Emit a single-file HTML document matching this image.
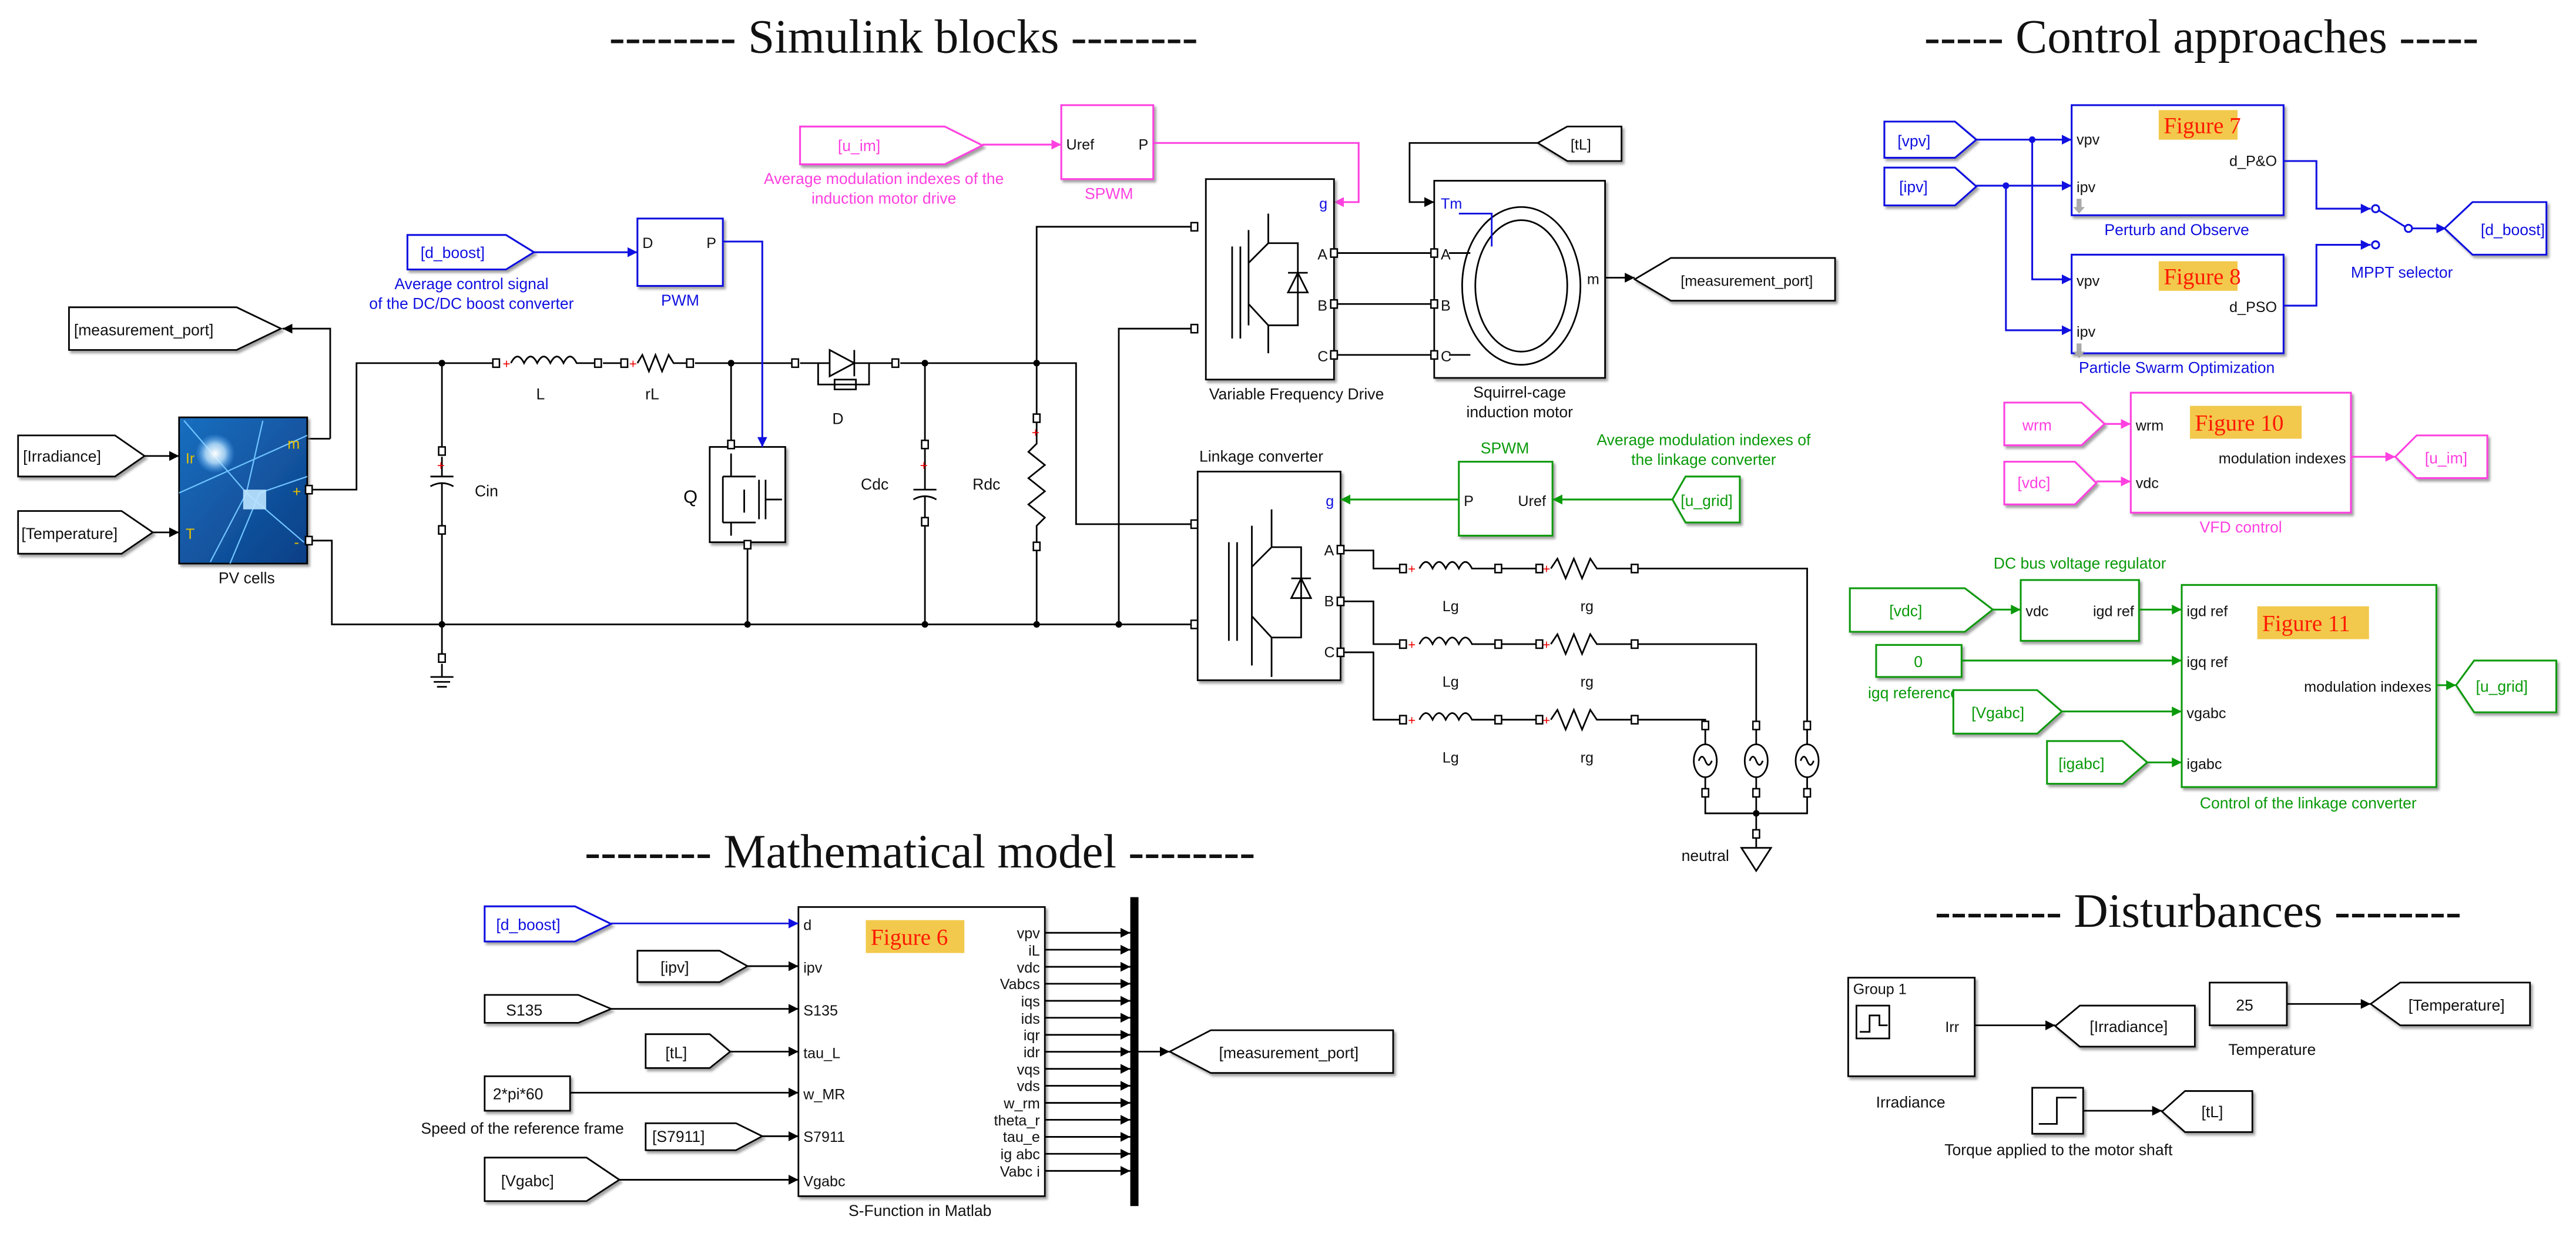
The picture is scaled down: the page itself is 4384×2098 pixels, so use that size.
<!DOCTYPE html>
<html><head><meta charset="utf-8"><style>
html,body{margin:0;padding:0;background:#fff;}
svg{display:block;}
text{font-family:"Liberation Sans",Arial,sans-serif;}
.t{font-family:"Liberation Serif",serif;font-size:29px;fill:#111;}
.f{font-family:"Liberation Serif",serif;font-size:14px;fill:#ff1a00;}
</style></head><body>
<svg width="4384" height="2098" viewBox="0 0 1568 750.4" preserveAspectRatio="none" xmlns="http://www.w3.org/2000/svg">
<defs>
<marker id="ak" viewBox="0 0 10 10" refX="10" refY="5" markerWidth="6" markerHeight="6" orient="auto" markerUnits="userSpaceOnUse"><path d="M0,0L10,5L0,10z" fill="#000"/></marker>
<marker id="ab" viewBox="0 0 10 10" refX="10" refY="5" markerWidth="6" markerHeight="6" orient="auto" markerUnits="userSpaceOnUse"><path d="M0,0L10,5L0,10z" fill="#1010e0"/></marker>
<marker id="ap" viewBox="0 0 10 10" refX="10" refY="5" markerWidth="6" markerHeight="6" orient="auto" markerUnits="userSpaceOnUse"><path d="M0,0L10,5L0,10z" fill="#ff40e0"/></marker>
<marker id="ag" viewBox="0 0 10 10" refX="10" refY="5" markerWidth="6" markerHeight="6" orient="auto" markerUnits="userSpaceOnUse"><path d="M0,0L10,5L0,10z" fill="#0a9a0a"/></marker>
<filter id="sh" x="-10%" y="-10%" width="130%" height="140%"><feDropShadow dx="1.2" dy="1.5" stdDeviation="0.8" flood-color="#777" flood-opacity="0.7"/></filter>
<linearGradient id="pv" x1="0" y1="0" x2="1" y2="1"><stop offset="0" stop-color="#1a6fc0"/><stop offset="1" stop-color="#0c3f86"/></linearGradient>
<radialGradient id="gl"><stop offset="0" stop-color="#fff"/><stop offset="0.5" stop-color="#bfe6ff" stop-opacity="0.8"/><stop offset="1" stop-color="#5ab0ff" stop-opacity="0"/></radialGradient>
</defs>

<text class="t" x="550" y="32" text-anchor="middle">--------  Simulink blocks  --------</text>
<text class="t" x="1340" y="32" text-anchor="middle">-----  Control approaches  -----</text>
<text class="t" x="560" y="528" text-anchor="middle">--------  Mathematical model  --------</text>
<text class="t" x="1338" y="564" text-anchor="middle">--------  Disturbances  --------</text>

<g fill="none" stroke="#000" stroke-width="1" font-size="9.5">
<path d="M42,187H144L171,200L144,213H42Z" fill="#fff" filter="url(#sh)"/>
<path d="M201,267H187M201,267V200H172" marker-end="url(#ak)"/>
<path d="M11,265H70L88,277.5L70,290H11Z" fill="#fff" filter="url(#sh)"/>
<path d="M11,311H74L93,324L74,337H11Z" fill="#fff" filter="url(#sh)"/>
<path d="M88,277.5H109" marker-end="url(#ak)"/>
<path d="M93,324H109" marker-end="url(#ak)"/>
<rect x="109" y="254" width="78" height="89" fill="url(#pv)" stroke="#000" filter="url(#sh)"/>
<g stroke="#6fc3ff" stroke-width="0.8"><path d="M112,256L150,300L185,330"/><path d="M160,256L150,300L128,342"/><path d="M109,300L187,265"/><path d="M140,343L158,300L187,290"/></g>
<circle cx="131" cy="276" r="12" fill="url(#gl)" stroke="none"/>
<rect x="148" y="298" width="14" height="12" fill="#bde4ff" stroke="none" opacity="0.9"/>
<path d="M187,298H217V221H302"/>
<path d="M187,329H202V380H727"/>
<path d="M269,221V275M269,278V290M262,290H276M262,296Q269,292 276,296M269,294V322M269,325V380M269,380V400M269,404V412M262,412H276M264,415H274M266,418H272"/>
<path d="M311,221q4,-8 8,0q4,-8 8,0q4,-8 8,0q4,-8 8,0q4,-8 8,0H364"/>
<path d="M367,221H380"/>
<path d="M388,221l3,-5 4,10 4,-10 4,10 4,-10 3,5H420"/>
<path d="M423,221H484"/>
<path d="M487,221H505M505,213V229L520,221Z M520,213V229M520,221H545M498,221V234H529V221M508,231H521V237H508Z"/>
<path d="M548,221H655V319H727"/>
<path d="M445,221V268M455,332V380"/>
<rect x="432" y="272" width="46" height="58" fill="#fff" filter="url(#sh)"/>
<path d="M445,276V290M440,290H460M440,318H460M440,290V318M453,298V312M445,318V326M462,292V316M466,292V316M466,304H476"/>
<text x="416" y="306" font-size="11" fill="#000" stroke="none">Q</text>
<path d="M563,221V270M563,273V298M556,298H570M556,304Q563,300 570,304M563,302V317M563,320V380"/>
<path d="M631,221V254M631,257V270l-5,5 10,8 -10,8 10,8 -10,8 10,8 -5,5V332M631,335V380"/>
<path d="M631,221V138H727M681,380V200H727"/>
</g>
<g fill="#fff" stroke="#000" stroke-width="0.9">
<rect x="186" y="295.5" width="4" height="5"/><rect x="186" y="326.5" width="4" height="5"/>
<rect x="300" y="218.5" width="4" height="5"/><rect x="362" y="218.5" width="4" height="5"/>
<rect x="378" y="218.5" width="4" height="5"/><rect x="418" y="218.5" width="4" height="5"/>
<rect x="482" y="218.5" width="4" height="5"/><rect x="543" y="218.5" width="4" height="5"/>
<rect x="267" y="272" width="4" height="5"/><rect x="267" y="320" width="4" height="5"/><rect x="267" y="398" width="4" height="5"/>
<rect x="443" y="268" width="4" height="5"/><rect x="453" y="329" width="4" height="5"/>
<rect x="561" y="268" width="4" height="5"/><rect x="561" y="315" width="4" height="5"/>
<rect x="629" y="252" width="4" height="5"/><rect x="629" y="330" width="4" height="5"/>
<rect x="725" y="135.5" width="4" height="5"/><rect x="725" y="197.5" width="4" height="5"/>
<rect x="725" y="316.5" width="4" height="5"/><rect x="725" y="377.5" width="4" height="5"/>
</g>
<g fill="#000"><circle cx="269" cy="221" r="2"/><circle cx="445" cy="221" r="2"/><circle cx="563" cy="221" r="2"/><circle cx="631" cy="221" r="2"/><circle cx="269" cy="380" r="2"/><circle cx="455" cy="380" r="2"/><circle cx="563" cy="380" r="2"/><circle cx="631" cy="380" r="2"/><circle cx="681" cy="380" r="2"/></g>
<g fill="#e00" font-size="8"><text x="306" y="224">+</text><text x="383" y="224">+</text><text x="266" y="286">+</text><text x="560" y="286">+</text><text x="628" y="266">+</text></g>
<g font-size="9.5" fill="#111">
<text x="133" y="355">PV cells</text>
<text x="329" y="243" text-anchor="middle">L</text><text x="397" y="243" text-anchor="middle">rL</text>
<text x="510" y="258" text-anchor="middle">D</text>
<text x="289" y="302">Cin</text><text x="524" y="298">Cdc</text><text x="592" y="298">Rdc</text>
<text x="45" y="204">[measurement_port]</text>
<text x="14" y="281">[Irradiance]</text>
<text x="13" y="328">[Temperature]</text>
</g>
<g fill="#e8c000" font-size="9"><text x="175" y="273">m</text><text x="113" y="282">Ir</text><text x="113" y="328">T</text><text x="178" y="302">+</text><text x="179" y="333">-</text></g>

<g stroke="#1010e0" fill="none" stroke-width="1.1">
<path d="M248,143H308L325,153.5L308,164H248Z" fill="#fff" filter="url(#sh)"/>
<rect x="388" y="133" width="52" height="41" fill="#fff" filter="url(#sh)"/>
<path d="M325,153.5H388" marker-end="url(#ab)"/>
<path d="M440,147H464V272" marker-end="url(#ab)"/>
</g>
<g fill="#1010e0" font-size="9.5">
<text x="256" y="157">[d_boost]</text>
<text x="287" y="176" text-anchor="middle">Average control signal</text>
<text x="287" y="188" text-anchor="middle">of the DC/DC boost converter</text>
<text x="414" y="186" text-anchor="middle">PWM</text>
</g>
<g font-size="9" fill="#111"><text x="391" y="151">D</text><text x="430" y="151">P</text></g>

<g stroke="#ff40e0" fill="none" stroke-width="1.1">
<path d="M487,77H575L598,88.5L575,100H487Z" fill="#fff" filter="url(#sh)"/>
<rect x="646" y="64" width="56" height="45" fill="#fff" filter="url(#sh)"/>
<path d="M598,88H646" marker-end="url(#ap)"/>
<path d="M702,87H827V123H812" marker-end="url(#ap)"/>
</g>
<g fill="#ff40e0" font-size="9.5">
<text x="510" y="92">[u_im]</text>
<text x="538" y="112" text-anchor="middle">Average modulation indexes of the</text>
<text x="538" y="124" text-anchor="middle">induction motor drive</text>
<text x="675" y="121" text-anchor="middle">SPWM</text>
</g>
<g font-size="9" fill="#111"><text x="649" y="91">Uref</text><text x="693" y="91">P</text></g>

<g fill="none" stroke="#000" stroke-width="1">
<rect x="734" y="109" width="78" height="122" fill="#fff" filter="url(#sh)"/>
<path d="M750,150V206M755,150V206M760,140V198M760,160L772,148V130M760,185L772,198V215M772,148H790V198H772M790,166L784,178H796Z M784,166H796"/>
<path d="M812,154H873M812,185H873M812,216H873"/>
<rect x="873" y="110" width="104" height="120" fill="#fff" filter="url(#sh)"/>
<ellipse cx="926" cy="174" rx="36" ry="48"/><ellipse cx="926" cy="174" rx="28" ry="40"/>
<path d="M882,154H895M882,216H895"/>
<path d="M987,87H858V123H873" marker-end="url(#ak)"/>
<path d="M936,87L954,77H987V98H954Z" fill="#fff" filter="url(#sh)"/>
<path d="M977,169H995" marker-end="url(#ak)"/>
<path d="M995,170L1017,157H1117V183H1017Z" fill="#fff" filter="url(#sh)"/>
</g>
<path d="M888,130H908V150" stroke="#1010e0" fill="none"/>
<g fill="#fff" stroke="#000" stroke-width="0.9"><rect x="810" y="151.5" width="4" height="5"/><rect x="810" y="182.5" width="4" height="5"/><rect x="810" y="213.5" width="4" height="5"/><rect x="871" y="151.5" width="4" height="5"/><rect x="871" y="182.5" width="4" height="5"/><rect x="871" y="213.5" width="4" height="5"/></g>
<g font-size="9" fill="#111">
<text x="802" y="158">A</text><text x="802" y="189">B</text><text x="802" y="220">C</text>
<text x="877" y="158">A</text><text x="877" y="189">B</text><text x="877" y="220">C</text>
<text x="966" y="173">m</text>
<text x="956" y="91">[tL]</text>
<text x="1023" y="174">[measurement_port]</text>
<text x="736" y="243" font-size="9.5">Variable Frequency Drive</text>
<text x="925" y="242" font-size="9.5" text-anchor="middle">Squirrel-cage</text>
<text x="925" y="254" font-size="9.5" text-anchor="middle">induction motor</text>
<text x="730" y="281" font-size="9.5">Linkage converter</text>
</g>
<text x="803" y="127" font-size="9" fill="#1010e0">g</text>
<text x="877" y="127" font-size="9" fill="#1010e0">Tm</text>

<g fill="none" stroke="#000" stroke-width="1">
<rect x="729" y="287" width="87" height="127" fill="#fff" filter="url(#sh)"/>
<path d="M748,330V390M753,330V390M762,320V405M762,345L774,333V310M762,375L774,388V412M774,333H792V388H774M792,352L786,364H798Z M786,352H798"/>
<path d="M816,335H836V346H854M816,366H836V392H854M816,397H836V438H854"/>
<path d="M864,346q4,-8 8,0q4,-8 8,0q4,-8 8,0q4,-8 8,0H912 M864,392q4,-8 8,0q4,-8 8,0q4,-8 8,0q4,-8 8,0H912 M864,438q4,-8 8,0q4,-8 8,0q4,-8 8,0q4,-8 8,0H912"/>
<path d="M912,346H937M912,392H937M912,438H937"/>
<path d="M944,346l4,-6 5,12 5,-12 5,12 5,-12 4,6H995M944,392l4,-6 5,12 5,-12 5,12 5,-12 4,6H995M944,438l4,-6 5,12 5,-12 5,12 5,-12 4,6H995"/>
<path d="M995,346H1100V441M995,392H1069V441M995,438H1038V441"/>
<ellipse cx="1038" cy="463" rx="7" ry="10"/><ellipse cx="1069" cy="463" rx="7" ry="10"/><ellipse cx="1100" cy="463" rx="7" ry="10"/>
<path d="M1034,463q2,-5 4,0q2,5 4,0M1065,463q2,-5 4,0q2,5 4,0M1096,463q2,-5 4,0q2,5 4,0"/>
<path d="M1038,444V453M1069,444V453M1100,444V453M1038,473V495H1100V473M1069,473V507M1069,510V516M1060,516H1078L1069,530Z"/>
</g>
<g fill="#fff" stroke="#000" stroke-width="0.9">
<rect x="814" y="332" width="4" height="5"/><rect x="814" y="363.5" width="4" height="5"/><rect x="814" y="394.5" width="4" height="5"/>
<rect x="852" y="343.5" width="4" height="5"/><rect x="910" y="343.5" width="4" height="5"/><rect x="935" y="343.5" width="4" height="5"/><rect x="993" y="343.5" width="4" height="5"/>
<rect x="852" y="389.5" width="4" height="5"/><rect x="910" y="389.5" width="4" height="5"/><rect x="935" y="389.5" width="4" height="5"/><rect x="993" y="389.5" width="4" height="5"/>
<rect x="852" y="435.5" width="4" height="5"/><rect x="910" y="435.5" width="4" height="5"/><rect x="935" y="435.5" width="4" height="5"/><rect x="993" y="435.5" width="4" height="5"/>
<rect x="1036" y="439" width="4" height="5"/><rect x="1067" y="439" width="4" height="5"/><rect x="1098" y="439" width="4" height="5"/>
<rect x="1036" y="480" width="4" height="5"/><rect x="1067" y="480" width="4" height="5"/><rect x="1098" y="480" width="4" height="5"/><rect x="1067" y="505" width="4" height="5"/>
</g>
<circle cx="1069" cy="495" r="2"/>
<g fill="#e00" font-size="8"><text x="857" y="349">+</text><text x="939" y="349">+</text><text x="857" y="395">+</text><text x="939" y="395">+</text><text x="857" y="441">+</text><text x="939" y="441">+</text></g>
<g font-size="9" fill="#111">
<text x="806" y="338">A</text><text x="806" y="369">B</text><text x="806" y="400">C</text>
<text x="883" y="372" text-anchor="middle">Lg</text><text x="966" y="372" text-anchor="middle">rg</text>
<text x="883" y="418" text-anchor="middle">Lg</text><text x="966" y="418" text-anchor="middle">rg</text>
<text x="883" y="464" text-anchor="middle">Lg</text><text x="966" y="464" text-anchor="middle">rg</text>
<text x="1038" y="524" text-anchor="middle" font-size="9.5">neutral</text>
</g>
<text x="807" y="308" font-size="9" fill="#1010e0">g</text>

<g stroke="#0a9a0a" fill="none" stroke-width="1.1">
<rect x="888" y="281" width="57" height="45" fill="#fff" filter="url(#sh)"/>
<path d="M1018,304L1026,290H1059V318H1026Z" fill="#fff" filter="url(#sh)"/>
<path d="M1018,304H945" marker-end="url(#ag)"/>
<path d="M888,304H816" marker-end="url(#ag)"/>
</g>
<g fill="#0a9a0a" font-size="9.5">
<text x="916" y="276" text-anchor="middle">SPWM</text>
<text x="1037" y="271" text-anchor="middle">Average modulation indexes of</text>
<text x="1037" y="283" text-anchor="middle">the linkage converter</text>
<text x="1023" y="308">[u_grid]</text>
</g>
<g font-size="9" fill="#111"><text x="891" y="308">P</text><text x="924" y="308">Uref</text></g>

<g stroke="#1010e0" fill="none" stroke-width="1.1">
<path d="M1147,74H1190L1203,85L1190,96H1147Z" fill="#fff" filter="url(#sh)"/>
<path d="M1147,102H1190L1203,113.5L1190,125H1147Z" fill="#fff" filter="url(#sh)"/>
<rect x="1261" y="64" width="129" height="67" fill="#fff" filter="url(#sh)"/>
<rect x="1261" y="155" width="129" height="60" fill="#fff" filter="url(#sh)"/>
<path d="M1203,85H1261" marker-end="url(#ab)"/>
<path d="M1203,113H1261" marker-end="url(#ab)"/>
<path d="M1237,85V170H1261" marker-end="url(#ab)"/>
<path d="M1221,113V201H1261" marker-end="url(#ab)"/>
<path d="M1390,98H1410V127H1443" marker-end="url(#ab)"/>
<path d="M1390,186H1410V149H1443" marker-end="url(#ab)"/>
<circle cx="1446" cy="127" r="2.2"/><circle cx="1446" cy="149" r="2.2"/><circle cx="1466" cy="139" r="2.2"/>
<path d="M1448,128L1464,138M1468,139H1488" />
<path d="M1488,139H1489" marker-end="url(#ab)"/>
<path d="M1488,139L1505,123H1550V155H1505Z" fill="#fff" filter="url(#sh)"/>
</g>
<g fill="#1010e0"><circle cx="1237" cy="85" r="2"/><circle cx="1221" cy="113" r="2"/></g>
<rect x="1314" y="67" width="48" height="18" fill="#f2c94c"/>
<rect x="1314" y="159" width="48" height="18" fill="#f2c94c"/>
<text class="f" x="1317" y="81">Figure 7</text>
<text class="f" x="1317" y="173">Figure 8</text>
<g font-size="9" fill="#111">
<text x="1264" y="88">vpv</text><text x="1264" y="117">ipv</text><text x="1386" y="101" text-anchor="end">d_P&amp;O</text>
<text x="1264" y="174">vpv</text><text x="1264" y="205">ipv</text><text x="1386" y="190" text-anchor="end">d_PSO</text>
</g>
<g fill="#1010e0" font-size="9.5">
<text x="1155" y="89">[vpv]</text><text x="1156" y="117">[ipv]</text>
<text x="1510" y="143">[d_boost]</text>
<text x="1325" y="143" text-anchor="middle">Perturb and Observe</text>
<text x="1325" y="227" text-anchor="middle">Particle Swarm Optimization</text>
<text x="1462" y="169" text-anchor="middle">MPPT selector</text>
</g>
<g fill="#aaa"><path d="M1264,121h3v5h2l-3.5,4l-3.5,-4h2z"/><path d="M1264,209h3v5h2l-3.5,4l-3.5,-4h2z"/><path d="M1300,298h3v5h2l-3.5,4l-3.5,-4h2z"/><path d="M1234,377h3v5h2l-3.5,4l-3.5,-4h2z"/><path d="M1333,468h3v5h2l-3.5,4l-3.5,-4h2z"/></g>

<g stroke="#ff40e0" fill="none" stroke-width="1.1">
<path d="M1220,245H1267L1281,258L1267,271H1220Z" fill="#fff" filter="url(#sh)"/>
<path d="M1220,281H1263L1276,294L1263,307H1220Z" fill="#fff" filter="url(#sh)"/>
<rect x="1297" y="239" width="134" height="73" fill="#fff" filter="url(#sh)"/>
<path d="M1281,258H1297" marker-end="url(#ap)"/>
<path d="M1276,293H1297" marker-end="url(#ap)"/>
<path d="M1431,278H1458" marker-end="url(#ap)"/>
<path d="M1458,278L1471,265H1514V291H1471Z" fill="#fff" filter="url(#sh)"/>
</g>
<rect x="1333" y="247" width="68" height="20" fill="#f2c94c"/>
<text class="f" x="1336" y="262">Figure 10</text>
<g font-size="9" fill="#111"><text x="1300" y="262">wrm</text><text x="1300" y="297">vdc</text><text x="1428" y="282" text-anchor="end">modulation indexes</text></g>
<g fill="#ff40e0" font-size="9.5"><text x="1231" y="262">wrm</text><text x="1228" y="297">[vdc]</text><text x="1476" y="282">[u_im]</text><text x="1364" y="324" text-anchor="middle">VFD control</text></g>

<g stroke="#0a9a0a" fill="none" stroke-width="1.1">
<path d="M1126,358H1196L1213,371L1196,384.5H1126Z" fill="#fff" filter="url(#sh)"/>
<rect x="1230" y="353" width="72" height="37" fill="#fff" filter="url(#sh)"/>
<rect x="1328" y="356" width="155" height="123" fill="#fff" filter="url(#sh)"/>
<rect x="1142" y="392.5" width="52" height="19.5" fill="#fff" filter="url(#sh)"/>
<path d="M1246,451H1292L1307,464L1292,477H1246Z" fill="#fff" filter="url(#sh)"/>
<path d="M1213,371H1230" marker-end="url(#ag)"/>
<path d="M1302,371H1328" marker-end="url(#ag)"/>
<path d="M1194,402H1328" marker-end="url(#ag)"/>
<path d="M1255,433H1328" marker-end="url(#ag)"/>
<path d="M1307,464H1328" marker-end="url(#ag)"/>
<path d="M1483,417H1495" marker-end="url(#ag)"/>
<path d="M1495,417L1506,402H1556V433.5H1506Z" fill="#fff" filter="url(#sh)"/>
</g>
<rect x="1374" y="369" width="68" height="20" fill="#f2c94c"/>
<text class="f" x="1377" y="384">Figure 11</text>
<g font-size="9" fill="#111">
<text x="1233" y="375">vdc</text><text x="1299" y="375" text-anchor="end">igd ref</text>
<text x="1331" y="375">igd ref</text><text x="1331" y="406">igq ref</text><text x="1331" y="437">vgabc</text><text x="1331" y="468">igabc</text>
<text x="1480" y="421" text-anchor="end">modulation indexes</text>
</g>
<g fill="#0a9a0a" font-size="9.5">
<text x="1266" y="346" text-anchor="middle">DC bus voltage regulator</text>
<text x="1150" y="375">[vdc]</text>
<text x="1165" y="406">0</text>
<text x="1137" y="425">igq reference</text>
<text x="1253" y="468">[igabc]</text>
<text x="1507" y="421">[u_grid]</text>
<text x="1405" y="492" text-anchor="middle">Control of the linkage converter</text>
</g>
<path d="M1189,420H1240L1255,433L1240,446.5H1189Z" fill="#fff" stroke="#0a9a0a" stroke-width="1.1" filter="url(#sh)"/>
<text x="1200" y="437" fill="#0a9a0a" font-size="9.5">[Vgabc]</text>

<g fill="none" stroke="#000" stroke-width="1">
<rect x="486" y="552" width="150" height="176" fill="#fff" filter="url(#sh)"/>
<path d="M295,551.6H350L372,562.3L350,573H295Z" fill="#fff" stroke="#1010e0" stroke-width="1.1" filter="url(#sh)"/>
<path d="M388,578.6H438L455,588L438,597.7H388Z" fill="#fff" filter="url(#sh)"/>
<path d="M295,605.5H352L372,614L352,622.5H295Z" fill="#fff" filter="url(#sh)"/>
<path d="M393,629.4H432L444.5,640L432,650H393Z" fill="#fff" filter="url(#sh)"/>
<rect x="295" y="655" width="52" height="21" fill="#fff" filter="url(#sh)"/>
<path d="M393,683.6H448L464,691.5L448,700H393Z" fill="#fff" filter="url(#sh)"/>
<path d="M295,704.5H357L377,718L357,731H295Z" fill="#fff" filter="url(#sh)"/>
<path d="M372,562H486" stroke="#1010e0" marker-end="url(#ab)"/>
<path d="M455,588H486" marker-end="url(#ak)"/>
<path d="M372,614H486" marker-end="url(#ak)"/>
<path d="M444.5,640H486" marker-end="url(#ak)"/>
<path d="M347,665H486" marker-end="url(#ak)"/>
<path d="M464,691.5H486" marker-end="url(#ak)"/>
<path d="M377,718H486" marker-end="url(#ak)"/>
<g marker-end="url(#ak)">
<path d="M636,567.7H688"/><path d="M636,578H688"/><path d="M636,588.4H688"/><path d="M636,598.7H688"/><path d="M636,609.1H688"/><path d="M636,619.4H688"/><path d="M636,629.8H688"/><path d="M636,640.1H688"/><path d="M636,650.5H688"/><path d="M636,660.8H688"/><path d="M636,671.2H688"/><path d="M636,681.5H688"/><path d="M636,691.9H688"/><path d="M636,702.2H688"/><path d="M636,712.6H688"/>
</g>
<path d="M693,640H712" marker-end="url(#ak)"/>
<path d="M712,640L737,627H848V653H737Z" fill="#fff" filter="url(#sh)"/>
</g>
<rect x="688" y="546" width="5" height="188" fill="#000"/>
<rect x="527" y="560" width="60" height="20" fill="#f2c94c"/>
<text class="f" x="530" y="575">Figure 6</text>
<g font-size="9" fill="#111">
<text x="489" y="566">d</text><text x="489" y="592">ipv</text><text x="489" y="618">S135</text><text x="489" y="644">tau_L</text><text x="489" y="669">w_MR</text><text x="489" y="695">S7911</text><text x="489" y="722">Vgabc</text>
<g text-anchor="end"><text x="633" y="571">vpv</text><text x="633" y="581.5">iL</text><text x="633" y="592">vdc</text><text x="633" y="602">Vabcs</text><text x="633" y="612.5">iqs</text><text x="633" y="623">ids</text><text x="633" y="633">iqr</text><text x="633" y="643.5">idr</text><text x="633" y="654">vqs</text><text x="633" y="664">vds</text><text x="633" y="674.5">w_rm</text><text x="633" y="685">theta_r</text><text x="633" y="695">tau_e</text><text x="633" y="705.5">ig abc</text><text x="633" y="716">Vabc i</text></g>
<text x="560" y="740" text-anchor="middle" font-size="9.5">S-Function in Matlab</text>
<text x="402" y="592" font-size="9.5">[ipv]</text>
<text x="308" y="618" font-size="9.5">S135</text>
<text x="405" y="644" font-size="9.5">[tL]</text>
<text x="300" y="669" font-size="9.5">2*pi*60</text>
<text x="318" y="690" text-anchor="middle" font-size="9.5">Speed of the reference frame</text>
<text x="397" y="695" font-size="9.5">[S7911]</text>
<text x="305" y="722" font-size="9.5">[Vgabc]</text>
<text x="742" y="644" font-size="9.5">[measurement_port]</text>
</g>
<text x="302" y="566" font-size="9.5" fill="#1010e0">[d_boost]</text>

<g fill="none" stroke="#000" stroke-width="1">
<rect x="1125" y="595" width="77" height="60" fill="#fff" filter="url(#sh)"/>
<rect x="1130" y="612" width="20" height="20"/>
<path d="M1132,628H1138V618H1144V624H1149"/>
<path d="M1202,624H1251" marker-end="url(#ak)"/>
<path d="M1251,624.5L1266,612H1336V637H1266Z" fill="#fff" filter="url(#sh)"/>
<rect x="1345" y="598" width="47" height="26" fill="#fff" filter="url(#sh)"/>
<path d="M1392,611H1443" marker-end="url(#ak)"/>
<path d="M1443,611L1461,598H1540V624H1461Z" fill="#fff" filter="url(#sh)"/>
<rect x="1237" y="662" width="31" height="28" fill="#fff" filter="url(#sh)"/>
<path d="M1241,684H1252V668H1264"/>
<path d="M1268,676H1316" marker-end="url(#ak)"/>
<path d="M1316,676.5L1330,664H1371V689H1330Z" fill="#fff" filter="url(#sh)"/>
</g>
<g font-size="9.5" fill="#111">
<text x="1128" y="605" font-size="9">Group 1</text>
<text x="1184" y="628" font-size="9">Irr</text>
<text x="1163" y="674" text-anchor="middle">Irradiance</text>
<text x="1272" y="628">[Irradiance]</text>
<text x="1361" y="615">25</text>
<text x="1383" y="642" text-anchor="middle">Temperature</text>
<text x="1466" y="615">[Temperature]</text>
<text x="1253" y="703" text-anchor="middle">Torque applied to the motor shaft</text>
<text x="1340" y="680">[tL]</text>
</g>
</svg>
</body></html>
